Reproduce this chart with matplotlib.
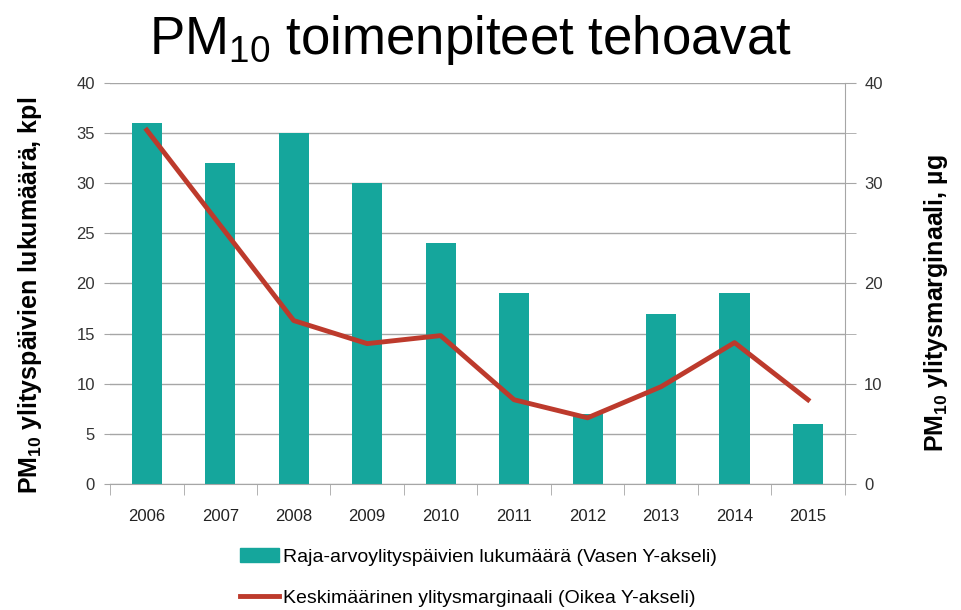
import matplotlib.pyplot as plt
import matplotlib.patches as mpatches
import matplotlib.lines as mlines
import numpy as np

years = ['2006', '2007', '2008', '2009', '2010', '2011', '2012', '2013', '2014', '2015']
days = [36, 32, 35, 30, 24, 19, 7, 17, 19, 6]
margin = [35.3, 25.8, 16.3, 14.0, 14.8, 8.4, 6.6, 9.7, 14.1, 8.4]

bar_color = '#15A69C'
line_color = '#BD3A2C'
grid_color = '#A6A6A6'

plt.rcParams['font.family'] = ['Liberation Sans', 'DejaVu Sans']
plt.rcParams['mathtext.fontset'] = 'custom'
plt.rcParams['mathtext.rm'] = 'Liberation Sans'
plt.rcParams['mathtext.bf'] = 'Liberation Sans:bold'

fig = plt.figure(figsize=(9.61, 6.10), dpi=100)
ax = fig.add_axes([0.1145, 0.2066, 0.7645, 0.6574])
x = np.arange(len(years))

ax.bar(x, days, width=0.41, color=bar_color, zorder=2)
ax.set_xlim(-0.5, len(years) - 0.5)
ax.set_ylim(0, 40)
ax.set_yticks(range(0, 41, 5))
ax.grid(axis='y', color=grid_color, linewidth=1, zorder=0)
ax.set_xticks(x)
ax.set_xticklabels(years, fontsize=12, color='#222222')
ax.set_xticks(np.arange(-0.5, len(years)), minor=True)
ax.tick_params(axis='x', which='major', length=0, pad=18)
ax.tick_params(axis='x', which='minor', length=8, color=grid_color)
ax.tick_params(axis='y', length=4, color=grid_color, labelsize=12, labelcolor='#333333', pad=7)
for s in ['top', 'left', 'right']:
    ax.spines[s].set_visible(False)
ax.spines['bottom'].set_color(grid_color)

ax2 = ax.twinx()
ax2.plot(x, margin, color=line_color, linewidth=3.5, zorder=3)
ax2.set_ylim(0, 40)
ax2.set_yticks(range(0, 41, 10))
ax2.set_yticks(range(0, 41, 5), minor=True)
ax2.tick_params(axis='y', which='both', length=8, color=grid_color, labelsize=12,
                labelcolor='#333333', pad=6)
for s in ['top', 'left', 'bottom']:
    ax2.spines[s].set_visible(False)
ax2.spines['right'].set_color(grid_color)

ax.set_ylabel('PM$_{\\mathbf{10}}$ ylityspäivien lukumäärä, kpl', fontsize=18, fontweight='bold')
ax.yaxis.set_label_coords(-0.09, 0.47)
ax2.set_ylabel('PM$_{\\mathbf{10}}$ ylitysmarginaali, µg', fontsize=18, fontweight='bold', rotation=90)
ax2.yaxis.set_label_coords(1.105, 0.45)

fig.text(0.49, 0.935, 'PM$_{10}$ toimenpiteet tehoavat', fontsize=38, ha='center', va='center')

h1 = mpatches.Patch(color=bar_color)
h2 = mlines.Line2D([], [], color=line_color, linewidth=3.5)
fig.legend([h1, h2],
           ['Raja-arvoylityspäivien lukumäärä (Vasen Y-akseli)',
            'Keskimäärinen ylitysmarginaali (Oikea Y-akseli)'],
           loc='center left', bbox_to_anchor=(0.232, 0.053), frameon=False,
           fontsize=14, handlelength=2.0, handletextpad=0.2, labelspacing=1.2)

fig.savefig('out.png', dpi=100)
